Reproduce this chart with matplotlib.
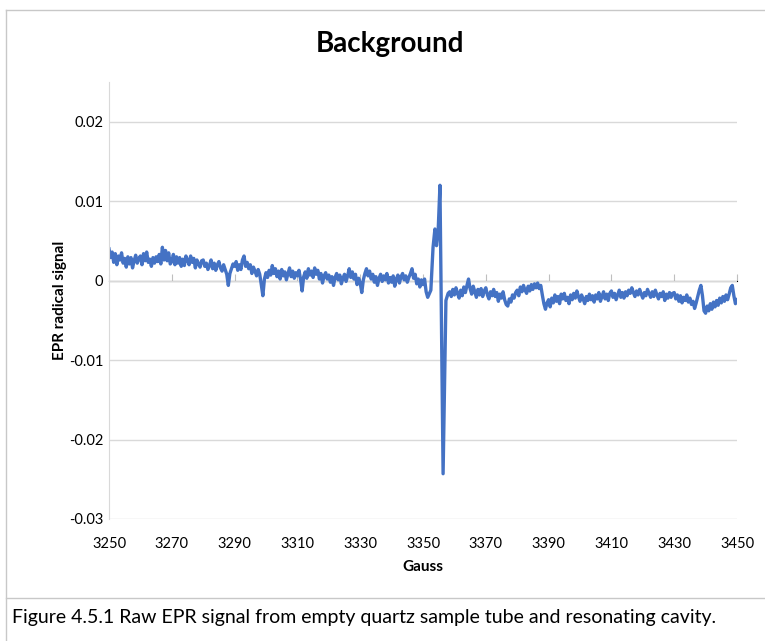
import matplotlib.pyplot as plt
import numpy as np
from matplotlib.lines import Line2D

# EPR background scan sampled every 0.5 G, signal in units of 1e-3
field_low = np.arange(3250, 3352, 0.5)
signal_low = [
    4.0, 2.9, 3.6, 2.3, 3.4, 2.0, 3.1, 2.6, 3.5, 2.2,
    2.8, 1.7, 3.0, 2.1, 2.9, 1.6, 2.5, 3.2, 2.2, 2.8,
    3.1, 2.0, 3.4, 2.5, 3.6, 2.3, 2.7, 1.8, 2.9, 2.2,
    3.0, 2.4, 3.3, 2.1, 4.2, 2.6, 3.8, 2.5, 3.5, 2.1,
    2.4, 3.3, 2.0, 3.0, 2.2, 2.9, 1.8, 2.7, 1.9, 3.1,
    2.6, 2.0, 3.1, 2.3, 2.8, 1.6, 2.6, 2.1, 1.7, 2.5,
    2.6, 1.8, 2.2, 1.4, 1.9, 2.6, 1.5, 2.2, 1.3, 2.0,
    2.4, 1.6, 1.2, 2.0, 1.4, 0.8, -0.6, 0.9, 1.5, 2.1,
    1.8, 2.4, 1.3, 2.0, 1.4, 2.6, 3.1, 1.8, 2.3, 1.5,
    2.0, 0.9, 1.7, 1.2, 0.6, 1.4, 0.8, -0.5, -1.9, 0.2,
    1.0, 0.4, 1.3, 0.7, 1.9, 0.9, 1.5, 0.5, 1.2, 0.2,
    1.4, 0.6, 1.1, 0.1, 0.9, 1.6, 0.5, 1.2, 0.3, 1.0,
    0.6, 1.3, 0.2, -1.3, 0.5, 1.1, 0.3, 1.5, 0.7, 1.2,
    0.4, 1.6, 0.8, 1.3, 0.2, 0.9, -0.3, 0.6, 1.0, 0.2,
    0.7, -0.2, 0.5, -0.6, 0.4, 0.9, 0.1, 0.7, -0.4, 0.3,
    0.8, -0.1, 0.6, 1.5, 0.4, 1.1, 0.2, 0.8, -0.5, 0.3,
    -0.3, -1.5, 0.1, 0.9, 1.5, 0.6, 1.2, 0.2, 0.8, -0.2,
    0.5, -0.6, 0.3, 0.8, -0.1, 0.6, 0.1, 0.9, -0.3, 0.4,
    -0.2, 0.6, -0.7, 0.2, 0.7, -0.3, 0.5, 0.9, 0.1, 0.6,
    -0.2, 0.4, 0.9, 1.5, 0.3, 0.8, -0.4, 0.2, -0.8, 0.1,
    -0.5, 0.2, -1.4, -2.1,
]
# resonance from the cavity / tube impurity
field_peak = [3352.5, 3353.2, 3353.8, 3354.3, 3354.8, 3355.4, 3356.4, 3357.3, 3358.0]
signal_peak = [-1.2, 4.2, 6.5, 4.4, 6.0, 12.0, -24.3, -2.5, -1.6]
field_high = np.arange(3358.5, 3450.5, 0.5)
signal_high = [
    -1.4, -2.0, -1.1,
    -1.8, -0.9, -1.6, -2.2, -1.2, -1.9, -0.8, -1.5, -0.6, 0.2,
    -1.0, -1.7, -0.7, -1.4, -2.1, -1.1, -1.8, -1.0, -2.0, -1.3,
    -0.9, -1.8, -2.3, -1.4, -1.9, -1.1, -2.0, -1.5, -2.6, -1.7,
    -2.2, -1.4, -2.4, -3.0, -3.2, -2.3, -2.7, -1.8, -2.2, -1.5,
    -1.2, -1.9, -0.8, -1.4, -0.6, -1.2, -1.6, -0.7, -1.3, -0.5,
    -1.1, -0.4, -0.9, -0.3, -1.0, -0.6, -1.8, -2.9, -3.6, -2.8,
    -2.4, -3.3, -2.2, -2.8, -1.8, -2.6, -2.0, -2.9, -1.7, -2.3,
    -1.6, -2.5, -2.1, -2.9, -1.8, -2.4, -1.6, -2.2, -1.3, -2.0,
    -2.6, -1.8, -2.3, -2.9, -2.0, -2.5, -1.7, -2.4, -1.9, -2.7,
    -1.8, -2.3, -1.5, -2.6, -2.0, -1.4, -2.3, -1.7, -2.5, -1.6,
    -1.3, -2.1, -1.6, -2.4, -1.8, -1.2, -2.1, -1.5, -2.2, -1.4,
    -1.9, -1.2, -1.6, -0.9, -1.5, -2.0, -1.3, -1.8, -1.1, -1.7,
    -2.2, -1.5, -1.9, -1.1, -1.6, -2.1, -1.4, -2.0, -1.2, -1.8,
    -2.3, -1.6, -2.0, -1.4, -2.5, -1.7, -2.2, -1.5, -2.1, -1.6,
    -1.5, -2.3, -1.8, -2.6, -1.9, -2.8, -2.1, -2.5, -1.8, -2.7,
    -2.2, -3.0, -2.6, -3.5, -2.8, -2.0, -1.2, -0.6, -1.9, -3.8,
    -4.1, -3.2, -3.8, -2.9, -3.6, -2.7, -3.3, -2.5, -3.1, -2.2,
    -2.8, -2.0, -2.6, -1.8, -2.4, -1.7, -0.9, -0.6, -1.9, -2.9,
    -2.4,
]

x_ticks = list(range(3250, 3451, 20))
y_ticks = [-0.03, -0.02, -0.01, 0, 0.01, 0.02]
y_labels = ["-0.03", "-0.02", "-0.01", "0", "0.01", "0.02"]

gauss = np.concatenate([field_low, field_peak, field_high])
signal = np.concatenate([signal_low, signal_peak, signal_high]) * 1e-3

plt.rcParams['font.family'] = ['Lato', 'DejaVu Sans']
grid_col = '#D9D9D9'

fig = plt.figure(figsize=(7.65, 6.41), dpi=100)
ax = fig.add_axes([109/765, 1-519/641, (737-109)/765, (519-82)/641])

ax.plot(gauss, signal, color='#4472C4', lw=2.4, solid_joinstyle='round')

ax.set_xlim(3250, 3450)
ax.set_ylim(-0.03, 0.025)
ax.set_xticks(x_ticks)
ax.set_xticklabels([str(t) for t in x_ticks], fontsize=10.5)
ax.set_yticks(y_ticks)
ax.set_yticklabels(y_labels, fontsize=10.5)
ax.tick_params(axis='x', length=0, pad=13)
ax.tick_params(axis='y', length=0, pad=4)
ax.grid(axis='y', color=grid_col, lw=1)
ax.set_axisbelow(True)
for side in ['top', 'right', 'bottom']:
    ax.spines[side].set_visible(False)
ax.spines['left'].set_color(grid_col)

# horizontal axis sits on zero with its tick marks
zero_pos = 0.03 / 0.055
sec = ax.secondary_xaxis(zero_pos)
sec.set_xticks(x_ticks)
sec.set_xticklabels([])
sec.tick_params(direction='out', length=5, color='#BFBFBF')
sec.spines['bottom'].set_color('#BFBFBF')

ax.set_xlabel('Gauss', fontsize=11, fontweight='bold')
ax.set_ylabel('EPR radical signal', fontsize=11, fontweight='bold')
ax.xaxis.set_label_coords(0.5, (519-567)/437)
ax.yaxis.set_label_coords((60-109)/628, 0.5)
ax.xaxis.label.set_va('center')
ax.yaxis.label.set_va('center')

fig.text(390/765, 1-44/641, 'Background', ha='center', va='center',
         fontsize=20, fontweight='bold')

# chart frame and caption box
border = '#C8C8C8'
fig.add_artist(Line2D([6/765, 1], [1-10/641]*2, color=border, lw=1))
fig.add_artist(Line2D([6/765]*2, [0, 1-10/641], color=border, lw=1))
fig.add_artist(Line2D([6/765, 1], [1-598/641]*2, color=border, lw=1))

fig.text(12/765, 1-617/641,
         'Figure 4.5.1 Raw EPR signal from empty quartz sample tube and resonating cavity.',
         ha='left', va='center', fontsize=14)

fig.savefig('out.png', dpi=100)
